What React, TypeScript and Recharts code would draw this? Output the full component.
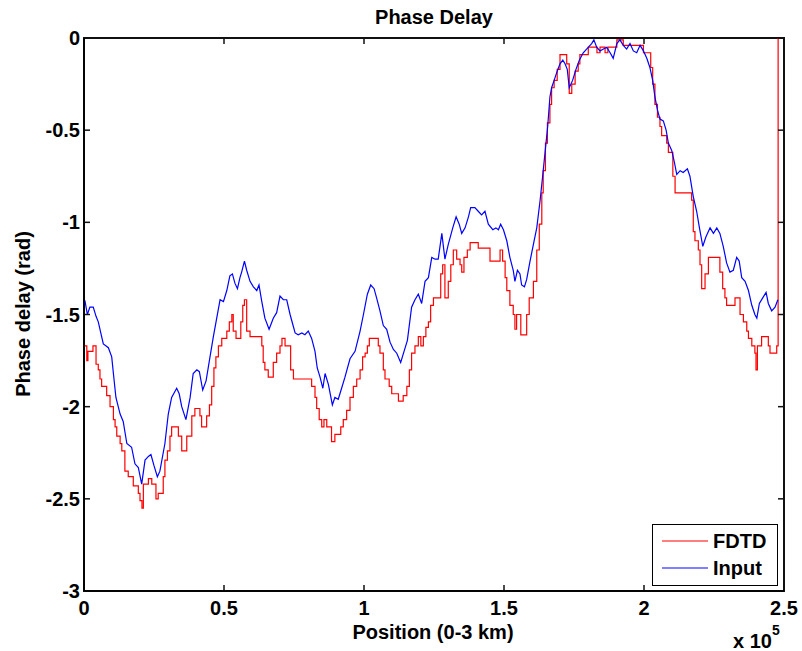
import React from 'react';
import { LineChart, Line, XAxis, YAxis, Legend, ReferenceArea, ReferenceLine } from 'recharts';

// Input phase delay, sampled along position: [position, rad]
const inputSamples: [number, number][] = [
    [0, -1.44], [400, -1.43], [1200, -1.50], [2100, -1.46], [3300, -1.46], [4300, -1.51], [5100, -1.54],
    [6300, -1.62], [6900, -1.66], [8700, -1.68], [9900, -1.73], [10500, -1.82], [11400, -1.95], [12900, -2.04],
    [14000, -2.08], [15300, -2.20], [17000, -2.22], [18200, -2.31], [19400, -2.33], [20600, -2.42], [21800, -2.29],
    [23000, -2.27], [23900, -2.26], [25000, -2.32], [26200, -2.38], [27100, -2.35], [28900, -2.20], [30100, -2.04],
    [31300, -1.95], [33100, -1.90], [34000, -1.93], [34900, -2.00], [36400, -2.07], [37900, -1.95], [39000, -1.82],
    [40300, -1.80], [41200, -1.81], [42400, -1.91], [43600, -1.86], [45000, -1.73], [46200, -1.62], [47400, -1.52],
    [48600, -1.42], [49800, -1.43], [51000, -1.37], [52100, -1.29], [53000, -1.28], [53900, -1.33], [54800, -1.36],
    [55700, -1.30], [56300, -1.27], [57300, -1.21], [58100, -1.26], [59300, -1.32], [60500, -1.35], [61700, -1.37],
    [62500, -1.34], [63500, -1.43], [64600, -1.52], [66100, -1.58], [67600, -1.52], [68800, -1.49], [70000, -1.40],
    [71200, -1.42], [72400, -1.42], [73600, -1.50], [74500, -1.55], [75400, -1.60], [76500, -1.61], [77800, -1.60],
    [78900, -1.61], [80100, -1.59], [81300, -1.63], [82500, -1.70], [83300, -1.79], [84300, -1.84], [85300, -1.90],
    [86100, -1.82], [87300, -1.88], [88700, -1.99], [89600, -1.95], [90800, -1.96], [92000, -1.90], [93200, -1.84],
    [95000, -1.74], [96800, -1.70], [98600, -1.59], [99800, -1.50], [101200, -1.39], [102400, -1.34], [103600, -1.36],
    [104500, -1.41], [105700, -1.48], [106900, -1.56], [108100, -1.58], [109300, -1.65], [110500, -1.69], [111700, -1.71],
    [113100, -1.76], [114300, -1.70], [115500, -1.64], [117000, -1.46], [118200, -1.42], [119400, -1.39], [120600, -1.44],
    [121800, -1.32], [123000, -1.30], [124200, -1.19], [125400, -1.20], [126500, -1.20], [127800, -1.06], [128900, -1.20],
    [130100, -1.12], [131700, -1.03], [132900, -0.97], [134000, -1.01], [134900, -1.06], [136100, -1.03], [137300, -0.97],
    [138100, -0.92], [139600, -0.92], [140800, -0.94], [142000, -0.96], [143200, -0.94], [144400, -1.01], [146000, -1.04],
    [147100, -1.03], [148000, -1.04], [148800, -1.01], [149800, -1.04], [151000, -1.10], [152100, -1.19], [153300, -1.26],
    [153900, -1.32], [154800, -1.26], [155700, -1.28], [156300, -1.34], [157300, -1.35], [158100, -1.31], [159300, -1.21],
    [160500, -1.12], [161700, -1.03], [162900, -0.88], [163800, -0.75], [164600, -0.63], [165600, -0.48], [166400, -0.32],
    [167000, -0.27], [167900, -0.23], [169000, -0.18], [170000, -0.14], [171000, -0.12], [171800, -0.14], [172600, -0.17],
    [173300, -0.27], [174500, -0.23], [175700, -0.17], [176900, -0.12], [178300, -0.08], [179500, -0.06], [181300, -0.03],
    [182100, -0.01], [183100, -0.05], [184300, -0.07], [185500, -0.06], [186700, -0.05], [187900, -0.08], [189000, -0.11],
    [190300, -0.03], [191400, -0.01], [192600, -0.04], [193800, -0.06], [195000, -0.03], [196200, -0.07], [197400, -0.08],
    [198600, -0.04], [199800, -0.07], [201000, -0.11], [202100, -0.16], [203100, -0.23], [203900, -0.32], [204800, -0.39],
    [205700, -0.44], [206900, -0.45], [207900, -0.50], [208700, -0.57], [209900, -0.61], [210800, -0.67], [211700, -0.74],
    [212900, -0.72], [214000, -0.73], [215500, -0.71], [216400, -0.75], [217600, -0.86], [218800, -0.94], [219800, -1.03],
    [221000, -1.13], [222100, -1.08], [223600, -1.03], [224800, -1.06], [226000, -1.03], [227100, -1.06], [228300, -1.13],
    [229500, -1.22], [230700, -1.27], [231900, -1.26], [233100, -1.19], [234000, -1.21], [234900, -1.30], [236100, -1.32],
    [237300, -1.37], [238500, -1.45], [239600, -1.50], [240300, -1.52], [241200, -1.44], [242400, -1.41], [243600, -1.38],
    [244400, -1.44], [245600, -1.48], [246800, -1.46], [247800, -1.42],
];

// FDTD result: stepped (quantised) phase, value holds until the next position
const fdtdSteps: [number, number][] = [
    [0, -1.67], [1000, -1.75], [1400, -1.70], [3200, -1.67], [4300, -1.77], [5100, -1.80], [5700, -1.85], [6300, -1.89],
    [8100, -1.94], [9300, -2.00], [10500, -2.07], [11100, -2.11], [11700, -2.16], [12900, -2.20], [13500, -2.24],
    [14600, -2.35], [15800, -2.38], [17600, -2.43], [19400, -2.47], [20000, -2.51], [20700, -2.55], [21200, -2.42],
    [23000, -2.39], [24200, -2.42], [25700, -2.50], [26500, -2.47], [28300, -2.38], [28900, -2.29], [29800, -2.24],
    [30700, -2.16], [31300, -2.11], [33700, -2.16], [34900, -2.24], [36700, -2.16], [38500, -2.05], [39600, -2.01],
    [41400, -2.05], [42000, -2.11], [43800, -2.05], [44800, -1.99], [45600, -1.89], [46400, -1.79], [47100, -1.73],
    [48000, -1.67], [49200, -1.63], [51000, -1.59], [51900, -1.54], [52800, -1.50], [53300, -1.59], [54300, -1.63],
    [56000, -1.54], [56700, -1.45], [57300, -1.42], [58100, -1.59], [59300, -1.62], [63500, -1.67], [64000, -1.76],
    [64600, -1.80], [65800, -1.84], [67600, -1.76], [68800, -1.71], [70000, -1.67], [70700, -1.63], [71800, -1.67],
    [73800, -1.80], [74800, -1.85], [81300, -1.89], [82500, -1.95], [83100, -2.01], [84000, -2.07], [84900, -2.11],
    [85700, -2.07], [86700, -2.11], [88400, -2.19], [89600, -2.15], [91700, -2.11], [92600, -2.07], [93800, -2.02],
    [95000, -1.95], [96200, -1.89], [97400, -1.85], [98600, -1.80], [99500, -1.73], [100400, -1.71], [101200, -1.67],
    [101900, -1.63], [105100, -1.67], [105700, -1.71], [106900, -1.80], [107500, -1.85], [109000, -1.89], [109900, -1.93],
    [112300, -1.97], [114000, -1.94], [115300, -1.89], [116200, -1.80], [117000, -1.71], [118200, -1.67], [119400, -1.62],
    [120300, -1.67], [121200, -1.62], [122100, -1.57], [123000, -1.54], [123800, -1.45], [124800, -1.41], [127400, -1.28],
    [128100, -1.23], [128900, -1.41], [130100, -1.32], [131000, -1.23], [131900, -1.15], [133100, -1.20], [134300, -1.23],
    [134900, -1.27], [135700, -1.19], [136900, -1.15], [137900, -1.11], [140800, -1.14], [145000, -1.21], [148600, -1.15],
    [149500, -1.21], [150400, -1.30], [151000, -1.37], [152100, -1.45], [153300, -1.50], [153900, -1.58], [154500, -1.50],
    [156000, -1.61], [158100, -1.50], [159000, -1.41], [160500, -1.32], [161700, -1.15], [162600, -1.01], [163500, -0.84],
    [164000, -0.72], [164800, -0.57], [165500, -0.46], [166400, -0.36], [167000, -0.27], [167900, -0.23], [169000, -0.17],
    [170000, -0.09], [172400, -0.14], [173300, -0.30], [174200, -0.25], [175400, -0.18], [176500, -0.14], [177100, -0.09],
    [180100, -0.05], [183200, -0.08], [184300, -0.05], [186100, -0.08], [187100, -0.05], [190300, -0.01], [192600, -0.04],
    [199800, -0.08], [202400, -0.16], [203100, -0.25], [203900, -0.36], [204800, -0.43], [205700, -0.48], [206300, -0.53],
    [208100, -0.57], [208700, -0.62], [210300, -0.75], [211100, -0.84], [217000, -0.88], [217600, -1.05], [218200, -1.10],
    [219400, -1.15], [220000, -1.23], [220600, -1.36], [221800, -1.28], [223000, -1.19], [227100, -1.27], [228100, -1.36],
    [228900, -1.41], [229500, -1.45], [232500, -1.41], [234300, -1.50], [235500, -1.54], [236700, -1.59], [237300, -1.63],
    [238500, -1.67], [239600, -1.71], [240000, -1.80], [240500, -1.67], [242000, -1.62], [244400, -1.67], [245000, -1.71],
    [247400, -1.67], [247900, 0],
];

const xTicks = [0, 50000, 100000, 150000, 200000, 250000];
const yTicks = [-3, -2.5, -2, -1.5, -1, -0.5, 0];
const X_MAX = 250000;
const Y_MIN = -3;

// plot box edges (px)
const PLOT_LEFT = 84;
const PLOT_RIGHT = 784;
const PLOT_TOP = 38;
const PLOT_BOTTOM = 591;

// inward tick length, in data units (~6 px)
const TICK_X = (6 / (PLOT_RIGHT - PLOT_LEFT)) * X_MAX;
const TICK_Y = (6 / (PLOT_BOTTOM - PLOT_TOP)) * -Y_MIN;

const FONT = '"Liberation Sans", Arial, Helvetica, sans-serif';
const tickStyle = { fill: '#000', fontSize: 20, fontWeight: 'bold', fontFamily: FONT };

const fdtdData = fdtdSteps.map(([x, y]) => ({ x, y }));
const inputData = inputSamples.map(([x, y]) => ({ x, y }));

const LegendBox = ({ payload }: any) => (
    <div style={{
        width: 124, height: 60, border: '1px solid #000', background: '#fff',
        fontFamily: FONT, fontWeight: 'bold', fontSize: 20, color: '#000', position: 'relative',
    }}>
        {(payload || []).map((item: any, i: number) => (
            <div key={i} style={{ position: 'absolute', left: 9, top: 3 + i * 27, height: 26, display: 'flex', alignItems: 'center' }}>
                <svg width={48} height={4} style={{ display: 'block' }}>
                    <line x1={0} y1={2} x2={46} y2={2} stroke={item.color} strokeWidth={1.2} />
                </svg>
                <span style={{ marginLeft: 3, lineHeight: '26px' }}>{item.value}</span>
            </div>
        ))}
    </div>
);

const axisLine = { stroke: '#000', strokeWidth: 1.5 };

export default function App() {
    return (
        <div style={{ position: 'absolute', left: 0, top: 0, width: 802, height: 651, background: '#fff' }}>
            <LineChart width={802} height={651} margin={{ top: PLOT_TOP, right: 802 - PLOT_RIGHT, bottom: 0, left: 0 }}>
                <XAxis
                    dataKey="x" type="number" domain={[0, X_MAX]} ticks={xTicks} allowDataOverflow
                    tickFormatter={(v: number) => String(v / 100000)} height={651 - PLOT_BOTTOM}
                    tickSize={0} tickMargin={10} tick={tickStyle}
                    axisLine={axisLine} tickLine={false}
                />
                <YAxis
                    type="number" domain={[Y_MIN, 0]} ticks={yTicks} allowDataOverflow width={PLOT_LEFT}
                    tickSize={0} tickMargin={4} tick={tickStyle}
                    axisLine={axisLine} tickLine={false}
                />
                <Line data={fdtdData} dataKey="y" name="FDTD" type="stepAfter" stroke="#ff0000"
                    strokeWidth={1.2} dot={false} isAnimationActive={false} />
                <Line data={inputData} dataKey="y" name="Input" type="linear" stroke="#0000ff"
                    strokeWidth={1.2} dot={false} isAnimationActive={false} />
                {/* box frame and inward ticks on all four sides */}
                <ReferenceArea x1={0} x2={X_MAX} y1={Y_MIN} y2={0} fill="none" fillOpacity={0}
                    stroke="#111" strokeWidth={2} strokeOpacity={1} />
                {xTicks.map((t) => (
                    <ReferenceLine key={`b${t}`} segment={[{ x: t, y: Y_MIN }, { x: t, y: Y_MIN + TICK_Y }]}
                        stroke="#111" strokeWidth={1.5} />
                ))}
                {xTicks.map((t) => (
                    <ReferenceLine key={`t${t}`} segment={[{ x: t, y: 0 }, { x: t, y: -TICK_Y }]}
                        stroke="#111" strokeWidth={1.5} />
                ))}
                {yTicks.map((t) => (
                    <ReferenceLine key={`l${t}`} segment={[{ x: 0, y: t }, { x: TICK_X, y: t }]}
                        stroke="#111" strokeWidth={1.5} />
                ))}
                {yTicks.map((t) => (
                    <ReferenceLine key={`r${t}`} segment={[{ x: X_MAX - TICK_X, y: t }, { x: X_MAX, y: t }]}
                        stroke="#111" strokeWidth={1.5} />
                ))}
                <Legend
                    layout="horizontal" verticalAlign="middle" align="center" content={<LegendBox />}
                    wrapperStyle={{ position: 'absolute', left: 652, top: 524, width: 126, height: 62 }}
                />
                <text x={434} y={24} textAnchor="middle" fontFamily={FONT} fontWeight="bold" fontSize={20} fill="#000">
                    Phase Delay
                </text>
                <text x={433} y={639} textAnchor="middle" fontFamily={FONT} fontWeight="bold" fontSize={20} fill="#000">
                    Position (0-3 km)
                </text>
                <text x={30} y={314} transform="rotate(-90, 30, 314)" textAnchor="middle" fontFamily={FONT}
                    fontWeight="bold" fontSize={20} fill="#000">
                    Phase delay (rad)
                </text>
                <text x={733} y={648} fontFamily={FONT} fontWeight="bold" fontSize={20} fill="#000">
                    x 10<tspan dy={-13} fontSize={14}>5</tspan>
                </text>
            </LineChart>
        </div>
    );
}
